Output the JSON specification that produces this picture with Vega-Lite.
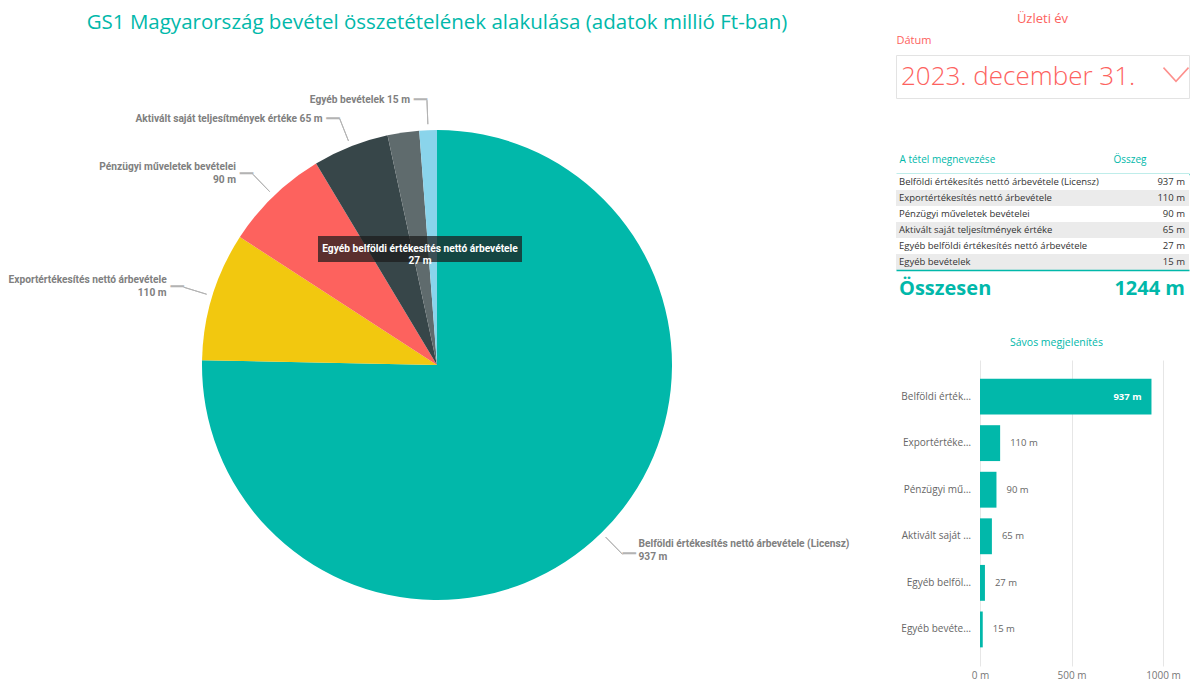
{
  "$schema": "https://vega.github.io/schema/vega-lite/v6.json",
  "background": "white",
  "padding": {"left": 0, "top": 12, "right": 0, "bottom": 0},
  "config": {
    "view": {"stroke": null},
    "font": "Open Sans",
    "axis": {"labelFont": "Open Sans", "titleFont": "Open Sans"}
  },
  "datasets": {
    "rev": [
      {"order": 1, "name": "Belföldi értékesítés nettó árbevétele (Licensz)", "value": 937},
      {"order": 2, "name": "Exportértékesítés nettó árbevétele", "value": 110},
      {"order": 3, "name": "Pénzügyi műveletek bevételei", "value": 90},
      {"order": 4, "name": "Aktivált saját teljesítmények értéke", "value": 65},
      {"order": 5, "name": "Egyéb belföldi értékesítés nettó árbevétele", "value": 27},
      {"order": 6, "name": "Egyéb bevételek", "value": 15}
    ],
    "slicer": [{"field": "Dátum", "date": "2023. december 31."}]
  },
  "spacing": 21,
  "hconcat": [
    {
      "width": 874,
      "height": 620,
      "data": {"name": "rev"},
      "transform": [
        {"window": [{"op": "sum", "field": "value", "as": "cum"}], "sort": [{"field": "order"}]},
        {"calculate": "datum.cum - datum.value / 2", "as": "mid"},
        {"calculate": "datum.name + ' ' + datum.value + ' m'", "as": "lbl1"},
        {"calculate": "datum.name + '\\n' + datum.value + ' m'", "as": "lbl2"}
      ],
      "title": {
        "text": "GS1 Magyarország bevétel összetételének alakulása (adatok millió Ft-ban)",
        "font": "Open Sans", "fontSize": 20.5, "fontWeight": "normal", "color": "#01B8AA",
        "anchor": "middle", "frame": "group", "offset": 22
      },
      "layer": [
        {
          "mark": {"type": "arc", "outerRadius": 235},
          "encoding": {
            "theta": {"field": "value", "type": "quantitative", "stack": true},
            "order": {"field": "order", "type": "quantitative"},
            "color": {
              "field": "name", "type": "nominal", "sort": {"field": "order"},
              "scale": {"range": ["#01B8AA", "#F2C80F", "#FD625E", "#374649", "#5F6B6D", "#8AD4EB"]},
              "legend": null
            }
          }
        },
        {
          "transform": [{"filter": "datum.order != 5"}],
          "mark": {"type": "arc", "outerRadius": 265, "innerRadius": 241, "filled": false, "color": "#b3b3b3", "strokeWidth": 1},
          "encoding": {
            "theta": {"field": "mid", "type": "quantitative", "stack": null},
            "theta2": {"field": "mid"}
          }
        },
        {
          "transform": [{"filter": "datum.order != 5 && datum.order != 1"}],
          "mark": {"type": "text", "text": "─", "font": "DejaVu Sans", "fontSize": 22, "align": "right", "baseline": "middle", "radius": 265, "color": "#b3b3b3"},
          "encoding": {"theta": {"field": "mid", "type": "quantitative", "stack": null}}
        },
        {
          "transform": [{"filter": "datum.order == 1"}],
          "mark": {"type": "text", "text": "─", "font": "DejaVu Sans", "fontSize": 22, "align": "left", "baseline": "middle", "radius": 265, "color": "#b3b3b3"},
          "encoding": {"theta": {"field": "mid", "type": "quantitative", "stack": null}}
        },
        {
          "transform": [{"filter": "datum.order == 2 || datum.order == 3"}],
          "mark": {"type": "text", "align": "right", "baseline": "middle", "radius": 265, "dx": -17, "dy": -7, "lineBreak": "\n", "lineHeight": 13, "font": "Roboto", "fontSize": 10.2, "fontWeight": "bold", "color": "#808080"},
          "encoding": {"theta": {"field": "mid", "type": "quantitative", "stack": null}, "text": {"field": "lbl2"}}
        },
        {
          "transform": [{"filter": "datum.order == 4 || datum.order == 6"}],
          "mark": {"type": "text", "align": "right", "baseline": "middle", "radius": 265, "dx": -17, "font": "Roboto", "fontSize": 10.2, "fontWeight": "bold", "color": "#808080"},
          "encoding": {"theta": {"field": "mid", "type": "quantitative", "stack": null}, "text": {"field": "lbl1"}}
        },
        {
          "transform": [{"filter": "datum.order == 1"}],
          "mark": {"type": "text", "align": "left", "baseline": "middle", "radius": 265, "dx": 16, "dy": -10, "lineBreak": "\n", "lineHeight": 13, "font": "Roboto", "fontSize": 10.2, "fontWeight": "bold", "color": "#808080"},
          "encoding": {"theta": {"field": "mid", "type": "quantitative", "stack": null}, "text": {"field": "lbl2"}}
        },
        {
          "transform": [{"filter": "datum.order == 5"}],
          "mark": {"type": "point", "shape": "M-1,-0.1275H1V0.1275H-1Z", "size": 41616, "filled": true, "color": "#1c1c1c", "opacity": 0.72, "strokeWidth": 0, "xOffset": -17, "yOffset": -116}
        },
        {
          "transform": [{"filter": "datum.order == 5"}],
          "mark": {"type": "text", "align": "center", "baseline": "middle", "lineBreak": "\n", "lineHeight": 12, "font": "Roboto", "fontSize": 10.2, "fontWeight": "bold", "color": "white", "xOffset": -17, "yOffset": -116},
          "encoding": {"text": {"field": "lbl2"}}
        }
      ]
    },
    {
      "concat": [
        {
          "width": 293,
          "height": 43,
          "data": {"name": "slicer"},
          "view": {"stroke": "#e3e3e3"},
          "title": {"text": "Üzleti év", "font": "Open Sans", "fontSize": 13, "fontWeight": "normal", "color": "#FD625E", "anchor": "middle", "offset": 8},
          "resolve": {"axis": {"x": "independent"}},
          "layer": [
            {
              "mark": {"type": "text", "align": "left", "baseline": "middle", "dx": 5, "font": "Open Sans", "fontSize": 26, "fontWeight": 300, "color": "#FD625E"},
              "encoding": {
                "x": {"datum": 0, "type": "quantitative", "scale": {"domain": [0, 1]},
                  "axis": {"orient": "top", "title": "Dátum", "titleAnchor": "start", "titleAlign": "left", "titleColor": "#FD625E", "titleFontSize": 11, "titleFontWeight": "normal", "titlePadding": 10, "labels": false, "ticks": false, "domain": false, "grid": false}},
                "text": {"field": "date"}
              }
            },
            {
              "mark": {"type": "point", "shape": "M-1,-0.55L0,0.55L1,-0.55", "filled": false, "color": "#FD625E", "strokeWidth": 1.5, "size": 625, "xOffset": -13, "yOffset": -2},
              "encoding": {"x": {"datum": 1, "type": "quantitative", "axis": null}}
            }
          ]
        },
        {
          "width": 293,
          "height": 96,
          "data": {"name": "rev"},
          "transform": [{"calculate": "datum.value + ' m'", "as": "vl"}],
          "resolve": {"axis": {"x": "independent"}},
          "encoding": {
            "y": {"field": "name", "type": "nominal", "sort": {"field": "order"}, "scale": {"paddingInner": 0, "paddingOuter": 0}, "axis": null}
          },
          "layer": [
            {
              "mark": {"type": "rect"},
              "encoding": {
                "x": {"datum": 0, "type": "quantitative", "scale": {"domain": [0, 1]},
                  "axis": {"orient": "top", "title": null, "values": [0, 0.73], "labelExpr": "datum.value == 0 ? 'A tétel megnevezése' : 'Összeg'", "labelAlign": "left", "labelFlush": false, "labelOverlap": false, "labelOffset": 3, "labelPadding": 10, "labelColor": "#01B8AA", "labelFontSize": 10, "ticks": false, "grid": false, "domainColor": "#01B8AA", "domainWidth": 1.5, "minExtent": 75}},
                "x2": {"datum": 1},
                "color": {"condition": {"test": "datum.order % 2 == 0", "value": "#ebebeb"}, "value": "#ffffff"}
              }
            },
            {
              "mark": {"type": "text", "align": "left", "baseline": "middle", "dx": 3, "font": "Open Sans", "fontSize": 9.5, "color": "#333333"},
              "encoding": {"x": {"datum": 0, "type": "quantitative", "axis": null}, "text": {"field": "name"}}
            },
            {
              "mark": {"type": "text", "align": "right", "baseline": "middle", "dx": -4, "font": "Open Sans", "fontSize": 9.5, "color": "#333333"},
              "encoding": {"x": {"datum": 1, "type": "quantitative", "axis": null}, "text": {"field": "vl"}}
            }
          ]
        },
        {
          "width": 293,
          "height": 67,
          "data": {"name": "rev"},
          "transform": [
            {"aggregate": [{"op": "sum", "field": "value", "as": "total"}]},
            {"calculate": "datum.total + ' m'", "as": "tl"}
          ],
          "resolve": {"axis": {"x": "independent"}},
          "layer": [
            {
              "mark": {"type": "text", "align": "left", "baseline": "middle", "dx": 3, "dy": -15, "font": "Open Sans", "fontSize": 20, "fontWeight": "bold", "color": "#01B8AA"},
              "encoding": {
                "x": {"datum": 0, "type": "quantitative", "scale": {"domain": [0, 1]},
                  "axis": {"orient": "top", "title": null, "labels": false, "ticks": false, "grid": false, "domainColor": "#01B8AA", "domainWidth": 1.5}},
                "text": {"value": "Összesen"}
              }
            },
            {
              "mark": {"type": "text", "align": "right", "baseline": "middle", "dx": -4, "dy": -15, "font": "Open Sans", "fontSize": 20, "fontWeight": "bold", "color": "#01B8AA"},
              "encoding": {"x": {"datum": 1, "type": "quantitative", "axis": null}, "text": {"field": "tl"}}
            }
          ]
        },
        {
          "width": 293,
          "height": 306,
          "data": {"name": "rev"},
          "transform": [{"calculate": "datum.value + ' m'", "as": "vl"}],
          "title": {"text": "Sávos megjelenítés", "font": "Open Sans", "fontSize": 10.5, "fontWeight": "normal", "color": "#01B8AA", "anchor": "middle", "frame": "group", "offset": 12, "dx": 14},
          "resolve": {"axis": {"x": "independent"}},
          "encoding": {
            "y": {"field": "name", "type": "nominal", "sort": {"field": "order"}, "scale": {"paddingInner": 0.23, "paddingOuter": 0.4}, "axis": null}
          },
          "layer": [
            {
              "mark": {"type": "bar", "color": "#01B8AA"},
              "encoding": {
                "x": {"field": "value", "type": "quantitative", "scale": {"domain": [0, 1000], "range": [84, 267]},
                  "axis": {"title": null, "values": [0, 500, 1000], "labelExpr": "datum.value + ' m'", "labelFlush": false, "domain": false, "ticks": false, "gridColor": "#e6e6e6", "labelColor": "#777777", "labelFontSize": 10, "labelPadding": 4}}
              }
            },
            {
              "mark": {"type": "text", "align": "right", "baseline": "middle", "dx": -9, "limit": 70, "font": "Open Sans", "fontSize": 10, "color": "#666666"},
              "encoding": {"x": {"datum": 0, "type": "quantitative", "axis": null}, "text": {"field": "name"}}
            },
            {
              "mark": {"type": "text", "align": "right", "baseline": "middle", "dx": -10, "color": "white", "fontWeight": "bold", "fontSize": 9.5},
              "encoding": {"x": {"field": "value", "type": "quantitative", "axis": null}, "text": {"condition": {"test": "datum.value >= 500", "field": "vl"}, "value": ""}}
            },
            {
              "mark": {"type": "text", "align": "left", "baseline": "middle", "dx": 10, "color": "#666666", "fontSize": 9.5},
              "encoding": {"x": {"field": "value", "type": "quantitative", "axis": null}, "text": {"condition": {"test": "datum.value < 500", "field": "vl"}, "value": ""}}
            }
          ]
        }
      ],
      "columns": 1,
      "spacing": 0
    }
  ]
}
